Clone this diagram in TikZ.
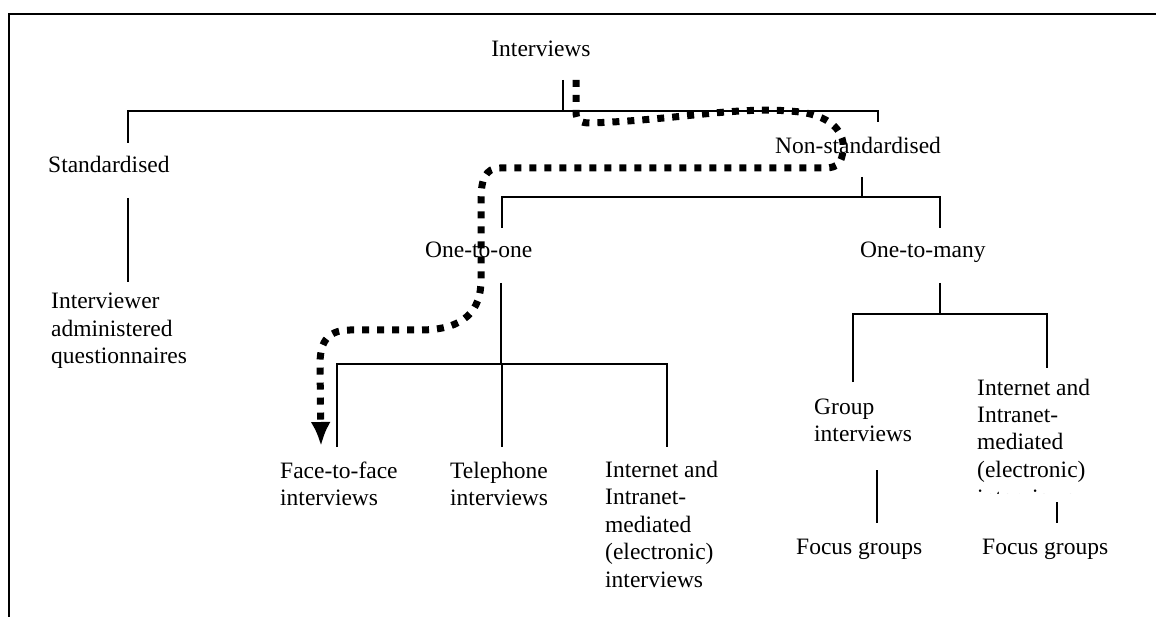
\documentclass[tikz,border=0pt]{standalone}
\usepackage{fontspec}
\setmainfont{Liberation Serif}
\usetikzlibrary{arrows.meta}
\newcommand{\stack}[1]{\begin{tabular}[t]{@{}l@{}}#1\end{tabular}}
\tikzset{
  lbl/.style={inner sep=0pt, anchor=base west, font=\fontsize{23.5}{27.5}\selectfont},
  tree/.style={line width=1.7pt},
  frame/.style={line width=2.4pt},
  route/.style={line width=7pt, dash pattern=on 7pt off 8pt, -{Latex[length=24pt,width=20pt]}}
}
\begin{document}
\begin{tikzpicture}[x=1pt,y=-1pt]
\useasboundingbox (0,0) rectangle (1156,617);
% frame
\coordinate (ftl) at (9,14);
\coordinate (ftr) at (1156,14);
\coordinate (fbl) at (9,617);
\draw[frame] (ftr) -- (ftl) -- (fbl);

% labels
\node[lbl, anchor=base] (int) at (541,57) {Interviews};
\node[lbl] (std) at (48,173) {Standardised};
\node[lbl] (ias) at (51,309) {\stack{Interviewer\\administered\\questionnaires}};
\node[lbl] (ns) at (775,154) {Non-standardised};
\node[lbl] (oto) at (425,258) {One-to-one};
\node[lbl] (otm) at (860,258) {One-to-many};
\node[lbl] (ftf) at (280,478) {\stack{Face-to-face\\interviews}};
\node[lbl] (tel) at (450,478) {\stack{Telephone\\interviews}};
\node[lbl] (iim) at (605,477) {\stack{Internet and\\Intranet-\\mediated\\(electronic)\\interviews}};
\node[lbl] (grp) at (814,414) {\stack{Group\\interviews}};
\begin{scope}
\clip (965,370) rectangle (1150,493);
\node[lbl] (iim2) at (977,395) {\stack{Internet and\\Intranet-\\mediated\\(electronic)\\interviews}};
\end{scope}
\node[lbl] (fg1) at (796,554) {Focus groups};
\node[lbl] (fg2) at (982,554) {Focus groups};

% tree junction coordinates
\coordinate (a0) at (563,80);
\coordinate (a1) at (563,111);
\coordinate (bL) at (128,111);
\coordinate (bR) at (878,111);
\coordinate (bLd) at (128,143);
\coordinate (bRd) at (878,122);
\coordinate (s0) at (128,198);
\coordinate (s1) at (128,282);
\coordinate (n0) at (862,177);
\coordinate (n1) at (862,197);
\coordinate (cL) at (502,197);
\coordinate (cR) at (940,197);
\coordinate (cLd) at (502,228);
\coordinate (cRd) at (940,228);
\coordinate (o0) at (501,283);
\coordinate (o1) at (501,364);
\coordinate (dL) at (337,364);
\coordinate (dM) at (502,364);
\coordinate (dR) at (667,364);
\coordinate (dLd) at (337,447);
\coordinate (dMd) at (502,447);
\coordinate (dRd) at (667,447);
\coordinate (m0) at (940,283);
\coordinate (m1) at (940,314);
\coordinate (eL) at (853,314);
\coordinate (eR) at (1047,314);
\coordinate (eLd) at (853,382);
\coordinate (eRd) at (1047,368);
\coordinate (g0) at (877,470);
\coordinate (g1) at (877,523);
\coordinate (h0) at (1057,502);
\coordinate (h1) at (1057,523);

\draw[tree] (a0) -- (a1);
\draw[tree] (bLd) -- (bL) -- (bR) -- (bRd);
\draw[tree] (s0) -- (s1);
\draw[tree] (n0) -- (n1);
\draw[tree] (cLd) -- (cL) -- (cR) -- (cRd);
\draw[tree] (o0) -- (o1);
\draw[tree] (dLd) -- (dL) -- (dR) -- (dRd);
\draw[tree] (dM) -- (dMd);
\draw[tree] (m0) -- (m1);
\draw[tree] (eLd) -- (eL) -- (eR) -- (eRd);
\draw[tree] (g0) -- (g1);
\draw[tree] (h0) -- (h1);

% dotted route
\coordinate (r0) at (576,80);
\coordinate (r9) at (321,446);
\draw[route] (r0) -- (576,112) .. controls (576,120) and (580,123) .. (590,123)
  .. controls (680,120) and (740,105) .. (800,112)
  .. controls (835,117) and (845,135) .. (843,150)
  .. controls (842,162) and (838,168) .. (825,168)
  -- (500,168) .. controls (485,168) and (481,180) .. (481,200)
  -- (481,280) .. controls (481,310) and (465,330) .. (420,330)
  -- (350,330) .. controls (325,330) and (320,345) .. (320,365)
  -- (r9);
\end{tikzpicture}
\end{document}
